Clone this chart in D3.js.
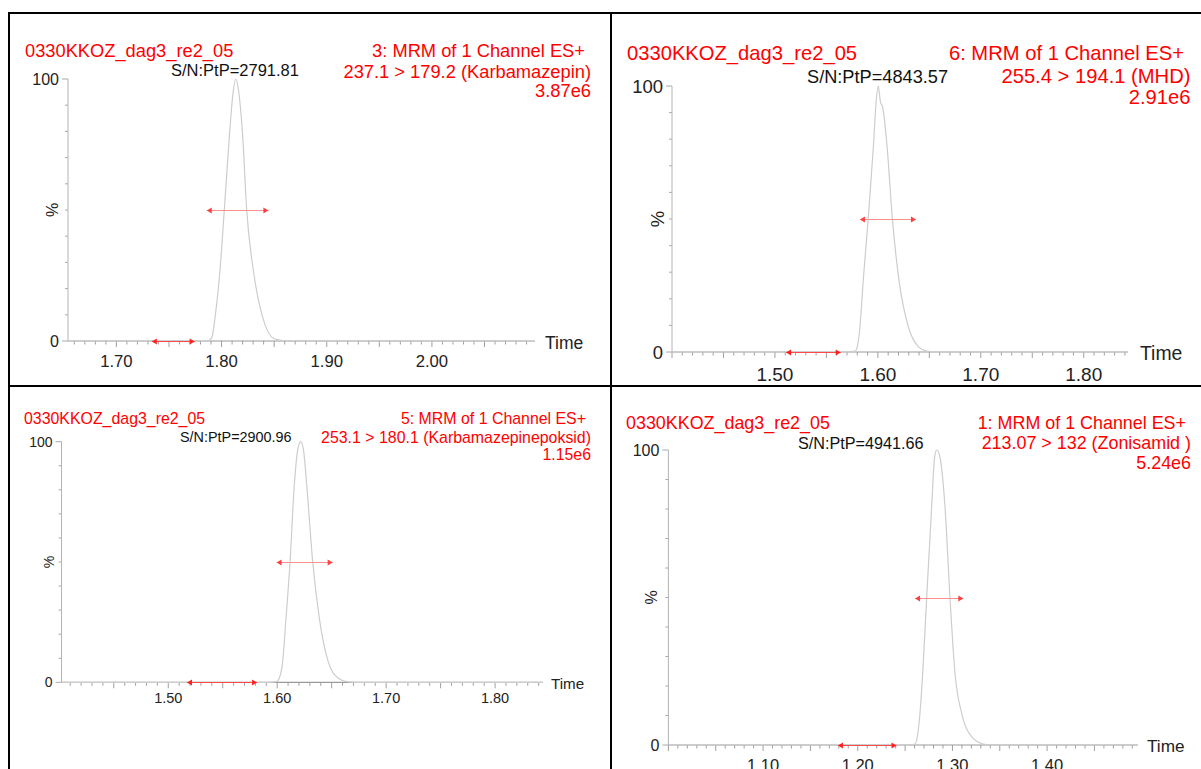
<!DOCTYPE html>
<html><head><meta charset="utf-8">
<script src="https://cdn.jsdelivr.net/npm/d3@7"></script>
<style>
html,body{margin:0;padding:0;background:#fff;}
svg{display:block;font-family:"Liberation Sans",Arial,Helvetica,sans-serif;}
</style></head><body>
<svg id="c" width="1201" height="769"></svg>
<script>
// ---------------- data ----------------
const sampleNames = ["0330KKOZ_dag3_re2_05","0330KKOZ_dag3_re2_05","0330KKOZ_dag3_re2_05","0330KKOZ_dag3_re2_05"];
const channelNames = ["3: MRM of 1 Channel ES+","6: MRM of 1 Channel ES+","5: MRM of 1 Channel ES+","1: MRM of 1 Channel ES+"];
const transitions = ["237.1 > 179.2 (Karbamazepin)","255.4 > 194.1 (MHD)","253.1 > 180.1 (Karbamazepinepoksid)","213.07 > 132 (Zonisamid )"];
const maxIntensities = ["3.87e6","2.91e6","1.15e6","5.24e6"];
const snValues = ["2791.81","4843.57","2900.96","4941.66"];
const timeDomains = [[1.654,2.098],[1.40,1.843],[1.402,1.844],[1.00,1.496]];
const timeTickLabels = [[1.70,1.80,1.90,2.00],[1.50,1.60,1.70,1.80],[1.50,1.60,1.70,1.80],[1.10,1.20,1.30,1.40]];
const yTickLabels = [0,100];

const peak1Time = [1.654,1.780,1.786,1.789,1.7909,1.7938,1.7985,1.8026,1.8074,1.8110,1.8134,1.8160,1.8201,1.8239,1.8302,1.8391,1.8477,1.8530,1.8600,1.9000,2.098];
const peak1Pct  = [0,0,0.1,0.5,1.5,9,27,50,78,95,100,96,78,50,27,9,1.5,0.5,0.1,0,0];
const peak2Time = [1.40,1.570,1.5778,1.5800,1.5826,1.5858,1.5907,1.5956,1.5985,1.6004,1.6025,1.6047,1.6090,1.6140,1.6205,1.6296,1.6393,1.6474,1.655,1.843];
const peak2Pct  = [0,0,0.3,2,9.5,27,50.5,77,95,100,94,92,77,50.5,27,9.5,2,0.3,0,0];
const peak3Time = [1.402,1.592,1.5995,1.6019,1.6050,1.6081,1.6118,1.6157,1.6190,1.6216,1.6240,1.6271,1.6326,1.6387,1.6469,1.6561,1.6638,1.672,1.844];
const peak3Pct  = [0,0,0.3,1.7,8.5,26.6,50,82,97,100,97,82,50,26.6,8.5,1.7,0.3,0,0];
const peak4Time = [1.00,1.253,1.2605,1.2629,1.2657,1.2686,1.2728,1.2781,1.2810,1.2834,1.2865,1.2921,1.2974,1.3027,1.3098,1.3203,1.3326,1.342,1.496];
const peak4Pct  = [0,0,0.3,2.8,10.7,24.3,50,81,97,100,98,81,50,24.3,10.7,2.8,0.3,0,0];

const halfWidthMarks = [[1.7859,1.8445],[1.5826,1.6370],[1.5995,1.6509],[1.2605,1.3115]];
const baselineMarks  = [[1.7337,1.7744],[1.5108,1.5639],[1.5172,1.5815],[1.1791,1.2409]];

// ---------------- layout ----------------
const peakTimes = [peak1Time, peak2Time, peak3Time, peak4Time];
const peakPcts  = [peak1Pct, peak2Pct, peak3Pct, peak4Pct];

const layout = [
  {x0:68,  x1:535,  y0:341,   y1:79,    fT:18.3, fSN:16.5, fTick:16.7, fTime:17.5, fY:16,
   titleX:25, titleY:56.6, rX:[585,591,591], rY:[56.6,77.6,96.6], snX:171, snY:75.9,
   tickY:367, timeX:545, timeY:349.3, pctX:52},
  {x0:672, x1:1128, y0:352,   y1:86,    fT:20.2, fSN:18.2, fTick:19, fTime:19.4, fY:18.5,
   titleX:627, titleY:60.3, rX:[1184,1190.5,1190.5], rY:[60.3,83.3,104.3], snX:807, snY:82.5,
   tickY:380.8, timeX:1140, timeY:360, pctX:657},
  {x0:61.5,x1:543,  y0:682.3, y1:441.7, fT:15.9, fSN:14.4, fTick:14.5, fTime:15.2, fY:14,
   titleX:24, titleY:423.7, rX:[586,591,591], rY:[423.7,442.7,459.7], snX:180, snY:442.2,
   tickY:703.2, timeX:551, timeY:688.5, pctX:49},
  {x0:668.4,x1:1138,y0:745,   y1:450,   fT:17.9, fSN:16.2, fTick:16.5, fTime:17.2, fY:16,
   titleX:626, titleY:429.4, rX:[1186,1191,1191], rY:[429.4,449.4,469.4], snX:798, snY:448.8,
   tickY:770.9, timeX:1147, timeY:752.2, pctX:651.5}
];

const svg = d3.select("#c");
svg.append("rect").attr("width",1201).attr("height",769).attr("fill","#fff");

const RED = "#ff0000";

layout.forEach((L, i) => {
  const g = svg.append("g");
  const x = d3.scaleLinear().domain(timeDomains[i]).range([L.x0, L.x1]);
  const y = d3.scaleLinear().domain([0,100]).range([L.y0, L.y1]);

  // minor x ticks every 0.01, longer each 0.05
  const [d0,d1] = timeDomains[i];
  const ticks = d3.range(Math.ceil(d0*100-1e-6), Math.floor(d1*100+1e-6)+1).map(v => v/100);
  g.selectAll("line.xt").data(ticks).join("line")
    .attr("x1", d => x(d)).attr("x2", d => x(d))
    .attr("y1", L.y0).attr("y2", d => L.y0 + (Math.round(d*100) % 5 === 0 ? 6 : 3.5))
    .attr("stroke","#a0a0a0").attr("stroke-width",1);

  // y ticks every 10 %
  const yt = d3.range(0,101,10);
  g.selectAll("line.yt").data(yt).join("line")
    .attr("x1", L.x0).attr("x2", d => L.x0 - (d===0||d===100 ? 6 : 3))
    .attr("y1", d => y(d)).attr("y2", d => y(d))
    .attr("stroke","#a8a8a8").attr("stroke-width",1);

  // axes lines
  g.append("line").attr("x1",L.x0).attr("x2",L.x0).attr("y1",y(100)).attr("y2",L.y0)
    .attr("stroke","#b4b4b4").attr("stroke-width",1);
  g.append("line").attr("x1",L.x0).attr("x2",L.x1).attr("y1",L.y0).attr("y2",L.y0)
    .attr("stroke","#9a9a9a").attr("stroke-width",1.2);

  // x tick labels
  g.selectAll("text.xl").data(timeTickLabels[i]).join("text")
    .attr("x", d => x(d)).attr("y", L.tickY).attr("text-anchor","middle")
    .attr("font-size", L.fTick).attr("fill","#222").text(d => d.toFixed(2));

  // y labels
  g.selectAll("text.yl").data(yTickLabels).join("text")
    .attr("x", L.x0 - 9).attr("y", d => y(d) + L.fY*0.36).attr("text-anchor","end")
    .attr("font-size", L.fY).attr("fill","#222").text(d => d);

  // % label
  g.append("text").attr("transform", `translate(${L.pctX + L.fY*0.36},${y(50)}) rotate(-90)`)
    .attr("text-anchor","middle").attr("font-size", L.fY).attr("fill","#222").text("%");

  // Time label
  g.append("text").attr("x", L.timeX).attr("y", L.timeY).attr("font-size", L.fTime)
    .attr("fill","#222").text("Time");

  // peak trace
  const pts = peakTimes[i].map((t,j) => [t, peakPcts[i][j]]);
  g.append("path").datum(pts)
    .attr("d", d3.line().x(d => x(d[0])).y(d => y(d[1])).curve(d3.curveMonotoneX))
    .attr("fill","none").attr("stroke","#cdcdcd").attr("stroke-width",1.2);

  // arrows
  function arrow(t0, t1, yRaw, lineCol, headCol) {
    const yy = Math.round(yRaw) + 0.5;
    const a = x(t0), b = x(t1);
    g.append("line").attr("x1",a).attr("x2",b).attr("y1",yy).attr("y2",yy)
      .attr("stroke", lineCol).attr("stroke-width",1);
    g.append("path").attr("d",`M${a},${yy}L${a+5},${yy-3}L${a+5},${yy+3}Z`).attr("fill",headCol);
    g.append("path").attr("d",`M${b},${yy}L${b-5},${yy-3}L${b-5},${yy+3}Z`).attr("fill",headCol);
  }
  arrow(halfWidthMarks[i][0], halfWidthMarks[i][1], y(50), "#ff9090", "#ff4040");
  arrow(baselineMarks[i][0], baselineMarks[i][1], L.y0 - 0.5, "#ff4a4a", "#ff2020");

  // header texts
  g.append("text").attr("x", L.titleX).attr("y", L.titleY).attr("font-size", L.fT)
    .attr("fill", RED).text(sampleNames[i]);
  const rLines = [channelNames[i], transitions[i], maxIntensities[i]];
  rLines.forEach((s, j) => {
    g.append("text").attr("x", L.rX[j]).attr("y", L.rY[j]).attr("text-anchor","end")
      .attr("font-size", L.fT).attr("fill", RED).text(s);
  });
  g.append("text").attr("x", L.snX).attr("y", L.snY).attr("font-size", L.fSN)
    .attr("fill","#111").text("S/N:PtP=" + snValues[i]);
});

// frame lines
const frame = svg.append("g").attr("stroke","#000").attr("stroke-width",2);
frame.append("line").attr("x1",8).attr("x2",1201).attr("y1",13).attr("y2",13);
frame.append("line").attr("x1",9).attr("x2",9).attr("y1",12).attr("y2",769);
frame.append("line").attr("x1",611).attr("x2",611).attr("y1",12).attr("y2",769);
frame.append("line").attr("x1",8).attr("x2",1201).attr("y1",386).attr("y2",386);
</script>
</body></html>
